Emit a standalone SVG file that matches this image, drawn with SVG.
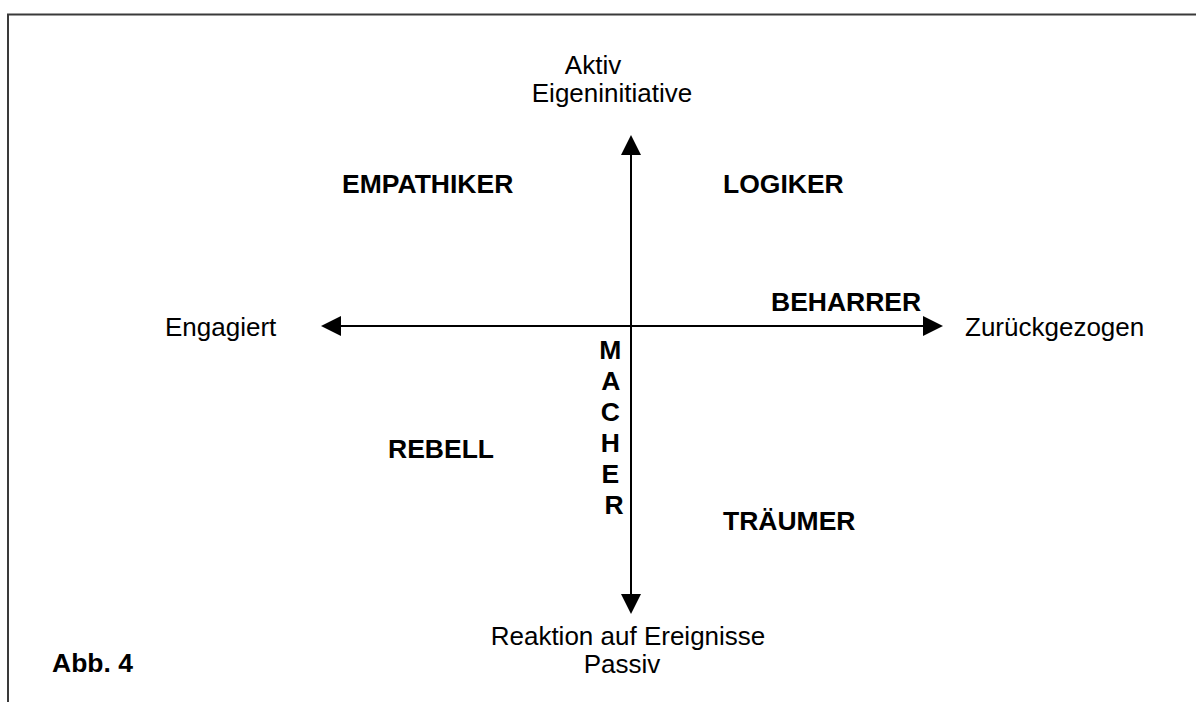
<svg xmlns="http://www.w3.org/2000/svg" width="1196" height="702" viewBox="0 0 1196 702">
<defs>
<style>
.t{font-family:"Liberation Sans",Arial,sans-serif;font-size:26px;fill:#000}
.b{font-family:"Liberation Sans",Arial,sans-serif;font-size:26.5px;font-weight:bold;fill:#000}
.ax{stroke:#000;stroke-width:2;fill:none}
.fr{stroke:#3a3a3a;stroke-width:2;fill:none}
</style>
<marker id="ah" viewBox="0 0 20 20" refX="0" refY="10" markerWidth="20" markerHeight="20" markerUnits="userSpaceOnUse" orient="auto-start-reverse">
<path d="M0,0 L20,10 L0,20 Z" fill="#000"/>
</marker>
</defs>
<rect width="1196" height="702" fill="#fff"/>
<g id="frame">
<path class="fr" d="M8,702 V14.5 H1196"/>
</g>
<g id="connectors">
<line class="ax" x1="631" y1="155" x2="631" y2="594" marker-start="url(#ah)" marker-end="url(#ah)"/>
<line class="ax" x1="341" y1="326" x2="923" y2="326" marker-start="url(#ah)" marker-end="url(#ah)"/>
</g>
<g id="top-label">
<text class="t" x="593" y="74" text-anchor="middle">Aktiv</text>
<text class="t" x="612" y="102" text-anchor="middle">Eigeninitiative</text>
</g>
<g id="bottom-label">
<text class="t" x="628" y="645" text-anchor="middle">Reaktion auf Ereignisse</text>
<text class="t" x="622" y="673" text-anchor="middle">Passiv</text>
</g>
<g id="left-label"><text class="t" x="165" y="336">Engagiert</text></g>
<g id="right-label"><text class="t" x="965" y="336">Zurückgezogen</text></g>
<g id="empathiker"><text class="b" x="342" y="193">EMPATHIKER</text></g>
<g id="logiker"><text class="b" x="723" y="193">LOGIKER</text></g>
<g id="beharrer"><text class="b" x="771" y="311">BEHARRER</text></g>
<g id="rebell"><text class="b" x="388" y="458">REBELL</text></g>
<g id="traeumer"><text class="b" x="723" y="530">TRÄUMER</text></g>
<g id="macher">
<text class="b" text-anchor="middle">
<tspan x="614" y="359">M</tspan>
<tspan x="614" y="390">A</tspan>
<tspan x="614" y="421">C</tspan>
<tspan x="614" y="452">H</tspan>
<tspan x="614" y="483">E</tspan>
<tspan x="614" y="514">R</tspan>
</text>
</g>
<g id="caption"><text class="b" x="52" y="672">Abb. 4</text></g>
</svg>
